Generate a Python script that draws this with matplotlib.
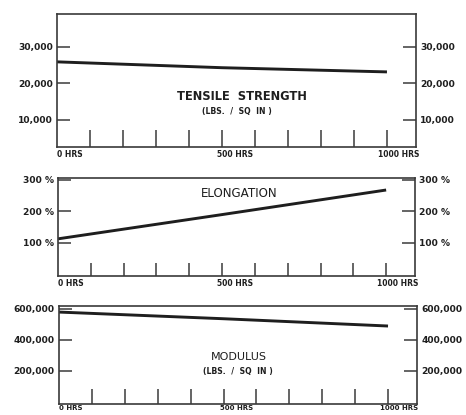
import matplotlib
matplotlib.use("Agg")
import matplotlib.pyplot as plt

# values
HOURS = [0, 500, 1000]
TENSILE = [25900, 24300, 23150]
ELONGATION = [113, 190, 268]
MODULUS = [580000, 537000, 490000]

HOUR_TICKS = [100, 200, 300, 400, 500, 600, 700, 800, 900, 1000]
HOUR_LABELS = ["0 HRS", "500 HRS", "1000 HRS"]
HOUR_LABEL_POS = [0, 540, 1035]

TENSILE_TICKS = [10000, 20000, 30000]
TENSILE_LABELS = ["10,000", "20,000", "30,000"]
ELONG_TICKS = [100, 200, 300]
ELONG_LABELS = ["100 %", "200 %", "300 %"]
MODULUS_TICKS = [200000, 400000, 600000]
MODULUS_LABELS = ["200,000", "400,000", "600,000"]

INK = "#1e1e1e"
FRAME = "#3a3a3a"
FONT = "DejaVu Sans"


def style_panel(ax, ylim, yticks, ylabels, xtick_len, xlab_size=5.5, xlab_off=-2.5):
    ax.set_xlim(0, 1088)
    ax.set_ylim(*ylim)
    for sp in ax.spines.values():
        sp.set_color(FRAME)
        sp.set_linewidth(1.2)
    ax.set_xticks(HOUR_TICKS)
    ax.set_xticklabels([])
    ax.tick_params(axis="x", direction="in", length=xtick_len, width=1.1, color=FRAME,
                   bottom=True, top=False)
    ax.set_yticks(yticks)
    ax.set_yticklabels(ylabels)
    ax.tick_params(axis="y", direction="in", length=9.5, width=1.1, color=FRAME,
                   left=True, right=True, labelleft=True, labelright=True,
                   labelsize=6.6, pad=3)
    for lab in ax.get_yticklabels():
        lab.set_fontweight("bold")
        lab.set_color(INK)
    for text, xpos, ha in zip(HOUR_LABELS, HOUR_LABEL_POS, ["left", "center", "center"]):
        ax.annotate(text, xy=(xpos, 0), xycoords=("data", "axes fraction"),
                    xytext=(0, xlab_off), textcoords="offset points",
                    ha=ha, va="top", fontsize=xlab_size, fontweight="bold", color=INK)


plt.rcParams["font.family"] = [FONT]
fig = plt.figure(figsize=(4.66, 4.15), dpi=100)
fig.patch.set_facecolor("white")

ax1 = fig.add_axes([0.1223, 0.6458, 0.7704, 0.3205])
ax1.plot(HOURS, TENSILE, color=INK, lw=2.1, solid_capstyle="butt")
style_panel(ax1, (2600, 39000), TENSILE_TICKS, TENSILE_LABELS, 12)
ax1.text(0.515, 0.376, "TENSILE  STRENGTH", transform=ax1.transAxes,
         ha="center", va="center", fontsize=8.3, fontweight="bold", color=INK)
ax1.text(0.50, 0.27, "(LBS.  /  SQ  IN )", transform=ax1.transAxes,
         ha="center", va="center", fontsize=5.6, fontweight="bold", color=INK)

ax2 = fig.add_axes([0.1245, 0.3349, 0.7661, 0.2361])
ax2.plot(HOURS, ELONGATION, color=INK, lw=2.1, solid_capstyle="butt")
style_panel(ax2, (-5, 306), ELONG_TICKS, ELONG_LABELS, 9.5)
ax2.text(0.507, 0.847, "ELONGATION", transform=ax2.transAxes,
         ha="center", va="center", fontsize=8.6, color=INK)

ax3 = fig.add_axes([0.1266, 0.0265, 0.7682, 0.2361])
ax3.plot(HOURS, MODULUS, color=INK, lw=2.1, solid_capstyle="butt")
style_panel(ax3, (-13000, 619000), MODULUS_TICKS, MODULUS_LABELS, 11,
            xlab_size=5.0, xlab_off=-0.8)
ax3.text(0.503, 0.48, "MODULUS", transform=ax3.transAxes,
         ha="center", va="center", fontsize=8.0, color=INK)
ax3.text(0.50, 0.327, "(LBS.  /  SQ  IN )", transform=ax3.transAxes,
         ha="center", va="center", fontsize=5.6, fontweight="bold", color=INK)

fig.savefig("out.png", dpi=100, facecolor="white")
